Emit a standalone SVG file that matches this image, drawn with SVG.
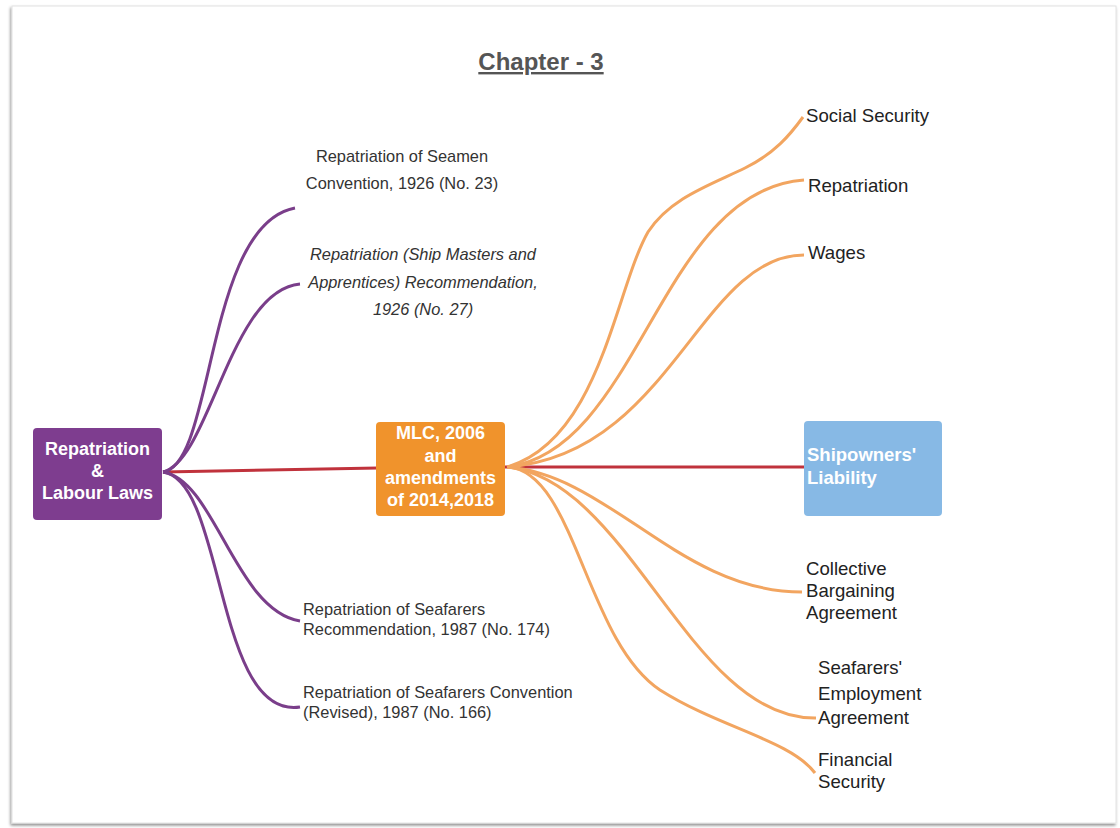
<svg xmlns="http://www.w3.org/2000/svg" width="1120" height="828" viewBox="0 0 1120 828">
<defs>
<style>
.title{font-family:"Liberation Sans",Arial,sans-serif;font-size:24px;font-weight:bold;fill:#555;text-decoration:underline}
.nt{font-family:"Liberation Sans",Arial,sans-serif;font-weight:bold;fill:#fff;font-size:18px}
.lt{font-family:"Liberation Sans",Arial,sans-serif;font-size:16.4px;fill:#333}
.rt{font-family:"Liberation Sans",Arial,sans-serif;font-size:18.6px;fill:#222}
.pc{fill:none;stroke:#7a3e8a;stroke-width:3}
.oc{fill:none;stroke:#f2a560;stroke-width:3}
.rc{fill:none;stroke:#c0323c;stroke-width:3}
</style>
<filter id="sh" x="-5%" y="-5%" width="110%" height="110%">
<feDropShadow dx="-1" dy="2" stdDeviation="1.5" flood-color="#000" flood-opacity="0.45"/>
</filter>
</defs>
<rect x="0" y="0" width="1120" height="828" fill="#fff"/>
<rect x="12" y="6" width="1104" height="817" fill="#fff" stroke="#e2e2e2" stroke-width="1" filter="url(#sh)"/>
<text class="title" x="541" y="70" text-anchor="middle">Chapter - 3</text>

<g id="connectors">
<path class="rc" d="M163,472 L378,468"/>
<path class="rc" d="M505,467 L806,467"/>
<path class="pc" d="M163,472 C215,465 205,225 295,208"/>
<path class="pc" d="M163,472 C210,460 230,290 300,284"/>
<path class="pc" d="M163,472 C215,480 235,610 300,621"/>
<path class="pc" d="M163,472 C225,480 215,720 300,707"/>
<path class="oc" d="M507,467 C600,440 615,290 648,232 C670,198 710,185 745,168 C775,153 790,135 803,117"/>
<path class="oc" d="M507,467 C640,450 660,190 804,180"/>
<path class="oc" d="M507,467 C670,455 700,255 804,255"/>
<path class="oc" d="M507,467 C610,475 680,592 802,592"/>
<path class="oc" d="M507,467 C630,480 690,720 816,718"/>
<path class="oc" d="M507,467 C575,470 585,640 660,690 C720,728 790,740 815,773"/>
</g>

<g id="node-repatriation-labour">
<rect x="33" y="428" width="129" height="92" rx="4" fill="#7e3d8f"/>
<text class="nt" x="97.5" y="455" text-anchor="middle">Repatriation</text>
<text class="nt" x="97.5" y="477" text-anchor="middle">&amp;</text>
<text class="nt" x="97.5" y="499" text-anchor="middle">Labour Laws</text>
</g>

<g id="node-mlc">
<rect x="376" y="422" width="129" height="94" rx="4" fill="#f0932c"/>
<text class="nt" x="440.5" y="439" text-anchor="middle">MLC, 2006</text>
<text class="nt" x="440.5" y="462" text-anchor="middle">and</text>
<text class="nt" x="440.5" y="484" text-anchor="middle">amendments</text>
<text class="nt" x="440.5" y="506" text-anchor="middle">of 2014,2018</text>
</g>

<g id="node-shipowners">
<rect x="804" y="421" width="138" height="95" rx="4" fill="#87b9e5"/>
<text class="nt" x="807" y="461" style="font-size:18.5px">Shipowners'</text>
<text class="nt" x="807" y="484" style="font-size:18.5px">Liability</text>
</g>

<g id="node-seamen-1926">
<text class="lt" x="402" y="162" text-anchor="middle">Repatriation of Seamen</text>
<text class="lt" x="402" y="189" text-anchor="middle">Convention, 1926 (No. 23)</text>
</g>
<g id="node-ship-masters">
<text class="lt" x="423" y="260" text-anchor="middle" font-style="italic">Repatriation (Ship Masters and</text>
<text class="lt" x="423" y="288" text-anchor="middle" font-style="italic">Apprentices) Recommendation,</text>
<text class="lt" x="423" y="315" text-anchor="middle" font-style="italic">1926 (No. 27)</text>
</g>
<g id="node-seafarers-rec">
<text class="lt" x="303" y="615">Repatriation of Seafarers</text>
<text class="lt" x="303" y="635">Recommendation, 1987 (No. 174)</text>
</g>
<g id="node-seafarers-conv">
<text class="lt" x="303" y="698">Repatriation of Seafarers Convention</text>
<text class="lt" x="303" y="718">(Revised), 1987 (No. 166)</text>
</g>

<g id="node-social-security"><text class="rt" x="806" y="122">Social Security</text></g>
<g id="node-repatriation"><text class="rt" x="808" y="192">Repatriation</text></g>
<g id="node-wages"><text class="rt" x="808" y="259">Wages</text></g>
<g id="node-cba">
<text class="rt" x="806" y="575">Collective</text>
<text class="rt" x="806" y="597">Bargaining</text>
<text class="rt" x="806" y="619">Agreement</text>
</g>
<g id="node-sea">
<text class="rt" x="818" y="674">Seafarers'</text>
<text class="rt" x="818" y="700">Employment</text>
<text class="rt" x="818" y="724">Agreement</text>
</g>
<g id="node-financial">
<text class="rt" x="818" y="766">Financial</text>
<text class="rt" x="818" y="788">Security</text>
</g>
</svg>
